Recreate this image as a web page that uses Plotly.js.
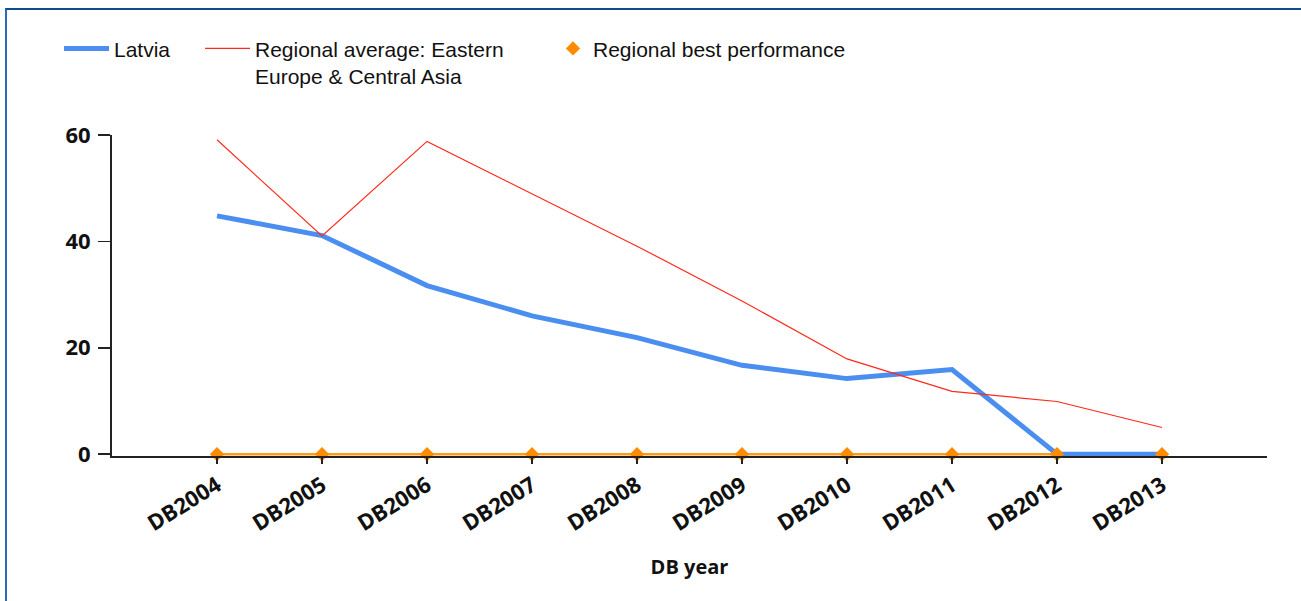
<!DOCTYPE html>
<html>
<head>
<meta charset="utf-8">
<script src="https://cdn.plot.ly/plotly-3.0.1.min.js"></script>
<style>
  html, body { margin: 0; padding: 0; background: #ffffff; }
  #wrap { position: relative; width: 1301px; height: 601px; overflow: hidden; }
  #chart { position: absolute; left: 0; top: 0; width: 1301px; height: 601px; }
  #frame { position: absolute; left: 5px; top: 8px; right: -10px; bottom: -10px;
           border-top: 2px solid #0d4c8f; border-left: 2px solid #2e6ab8;
           pointer-events: none; z-index: 10; }
</style>
</head>
<body>
<div id="wrap">
  <div id="chart"></div>
  <div id="frame"></div>
</div>
<script>
const categories = ['DB2004','DB2005','DB2006','DB2007','DB2008','DB2009','DB2010','DB2011','DB2012','DB2013'];
const latviaValues = [44.8, 41.1, 31.7, 26.0, 21.9, 16.7, 14.2, 15.9, 0, 0];
const regionalValues = [59.1, 41.0, 58.8, 49.0, 39.1, 28.8, 17.9, 11.8, 9.9, 5.0];
const bestValues = [0, 0, 0, 0, 0, 0, 0, 0, 0, 0];
const seriesNames = ['Latvia', 'Regional average: Eastern<br>Europe & Central Asia', 'Regional best performance'];
const yTicks = [0, 20, 40, 60];

const traces = [
  {
    x: categories, y: bestValues, mode: 'lines', showlegend: false, hoverinfo: 'skip',
    line: { color: '#ff9a1a', width: 2.5 }
  },
  {
    x: categories, y: latviaValues, name: seriesNames[0], mode: 'lines', legend: 'legend',
    line: { color: '#4a8ef0', width: 5 }
  },
  {
    x: categories, y: regionalValues, name: seriesNames[1], mode: 'lines', legend: 'legend2',
    line: { color: '#ff2a1a', width: 1.2 }
  },
  {
    x: categories, y: bestValues, name: seriesNames[2], mode: 'markers', cliponaxis: false, legend: 'legend3',
    marker: { symbol: 'diamond', color: '#ff8c00', size: 11 }
  }
];

const tickFont = { family: '"Open Sans", "Noto Sans", sans-serif', size: 22, color: '#111111', weight: 700 };
const legendFont = { family: '"Liberation Sans", Arial, sans-serif', size: 21, color: '#111111' };

function legendAt(xPx, iw) {
  return {
    orientation: 'h', xref: 'container', yref: 'container',
    x: xPx / 1301, y: 0.953, xanchor: 'left', yanchor: 'top',
    valign: 'top', itemwidth: iw, font: legendFont, bgcolor: 'rgba(0,0,0,0)'
  };
}

const layout = {
  width: 1301, height: 601,
  paper_bgcolor: '#ffffff', plot_bgcolor: '#ffffff',
  margin: { l: 112, r: 34, t: 135, b: 145, pad: 0 },
  showlegend: true,
  legend: legendAt(59, 45),
  legend2: legendAt(200, 45),
  legend3: legendAt(553, 30),
  xaxis: {
    type: 'category', range: [-1, 10], showgrid: false, zeroline: false,
    showline: true, linecolor: '#222222', linewidth: 2,
    ticks: 'outside', ticklen: 6, tickwidth: 1.5, tickcolor: '#222222',
    tickangle: -32, tickfont: tickFont,
    title: { text: 'DB year', standoff: 24,
             font: { family: '"Open Sans", "Noto Sans", sans-serif', size: 20, color: '#111111', weight: 700 } }
  },
  yaxis: {
    range: [-0.35, 60], tickvals: yTicks, showgrid: false, zeroline: false,
    showline: true, linecolor: '#222222', linewidth: 2,
    ticks: 'outside', ticklen: 12, tickwidth: 1.5, tickcolor: '#222222',
    ticklabelstandoff: 3, tickfont: tickFont
  }
};

Plotly.newPlot('chart', traces, layout, { displayModeBar: false, staticPlot: true });
</script>
</body>
</html>
